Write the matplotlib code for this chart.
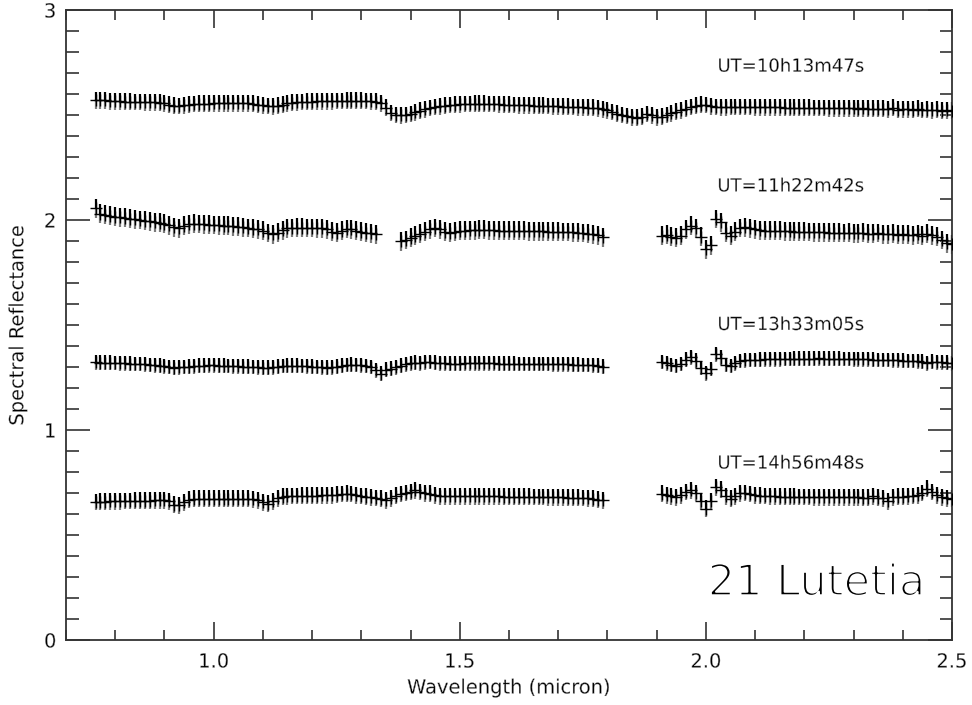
import numpy as np
import matplotlib
matplotlib.use('Agg')
import matplotlib.pyplot as plt
import matplotlib.patheffects as pe
from matplotlib.ticker import MultipleLocator, FormatStrFormatter

plt.rcParams['font.family'] = ['DejaVu Sans']

# wavelength segments (micron, 0.01 step)  [start, end]
seg_full = (0.76, 2.50)
seg_a2, seg_b2, seg_c2 = (0.76, 1.33), (1.38, 1.79), (1.91, 2.50)
seg_a, seg_b, seg_c = (0.76, 1.34), (1.35, 1.79), (1.91, 2.50)

# UT=10h13m47s (continuous)
refl_1 = [2.570, 2.570, 2.570, 2.566, 2.565, 2.565, 2.563, 2.563, 2.562, 2.562,
          2.561, 2.560, 2.560, 2.558, 2.556, 2.550, 2.545, 2.543, 2.547, 2.550,
          2.552, 2.553, 2.553, 2.554, 2.555, 2.555, 2.556, 2.556, 2.556, 2.556,
          2.555, 2.555, 2.553, 2.550, 2.546, 2.543, 2.542, 2.545, 2.550, 2.555,
          2.558, 2.560, 2.562, 2.563, 2.564, 2.565, 2.565, 2.566, 2.566, 2.567,
          2.567, 2.568, 2.568, 2.569, 2.568, 2.567, 2.566, 2.563, 2.555, 2.535,
          2.510, 2.500, 2.498, 2.500, 2.505, 2.512, 2.520, 2.527, 2.533, 2.538,
          2.542, 2.545, 2.548, 2.550, 2.551, 2.552, 2.552, 2.553, 2.553, 2.553,
          2.552, 2.552, 2.551, 2.550, 2.549, 2.548, 2.547, 2.546, 2.546, 2.545,
          2.545, 2.544, 2.543, 2.542, 2.541, 2.540, 2.539, 2.538, 2.537, 2.536,
          2.535, 2.534, 2.532, 2.528, 2.522, 2.514, 2.506, 2.500, 2.495, 2.490,
          2.488, 2.492, 2.505, 2.498, 2.490, 2.492, 2.500, 2.508, 2.515, 2.522,
          2.530, 2.538, 2.545, 2.550, 2.548, 2.542, 2.538, 2.537, 2.537, 2.538,
          2.538, 2.538, 2.538, 2.538, 2.537, 2.537, 2.537, 2.536, 2.536, 2.536,
          2.535, 2.535, 2.535, 2.534, 2.534, 2.534, 2.533, 2.533, 2.533, 2.532,
          2.532, 2.532, 2.531, 2.531, 2.531, 2.530, 2.531, 2.530, 2.530, 2.530,
          2.530, 2.528, 2.535, 2.525, 2.528, 2.527, 2.526, 2.530, 2.524, 2.526,
          2.522, 2.525, 2.520, 2.522, 2.520]

# UT=11h22m42s
refl_2a = [2.055, 2.030, 2.025, 2.020, 2.015, 2.012, 2.010, 2.006, 2.003, 2.000,
           1.997, 1.994, 1.990, 1.987, 1.982, 1.975, 1.966, 1.960, 1.972, 1.980,
           1.982, 1.981, 1.980, 1.978, 1.976, 1.975, 1.973, 1.972, 1.970, 1.968,
           1.965, 1.962, 1.958, 1.955, 1.948, 1.938, 1.932, 1.940, 1.952, 1.960,
           1.962, 1.963, 1.963, 1.962, 1.962, 1.961, 1.960, 1.955, 1.945, 1.940,
           1.948, 1.957, 1.955, 1.950, 1.945, 1.940, 1.937, 1.932]
refl_2b = [1.898, 1.905, 1.915, 1.925, 1.935, 1.945, 1.955, 1.962, 1.955, 1.945,
           1.940, 1.945, 1.948, 1.950, 1.952, 1.952, 1.953, 1.953, 1.952, 1.952,
           1.950, 1.950, 1.949, 1.948, 1.948, 1.948, 1.947, 1.947, 1.946, 1.946,
           1.945, 1.945, 1.944, 1.943, 1.943, 1.942, 1.940, 1.938, 1.935, 1.932,
           1.928, 1.918]
refl_2c = [1.925, 1.930, 1.920, 1.915, 1.925, 1.955, 1.973, 1.960, 1.920, 1.860,
           1.880, 2.005, 1.990, 1.940, 1.925, 1.945, 1.962, 1.965, 1.960, 1.955,
           1.952, 1.950, 1.949, 1.948, 1.948, 1.947, 1.946, 1.945, 1.945, 1.944,
           1.943, 1.942, 1.942, 1.941, 1.940, 1.940, 1.939, 1.938, 1.940, 1.937,
           1.936, 1.940, 1.935, 1.934, 1.938, 1.933, 1.932, 1.935, 1.930, 1.933,
           1.930, 1.928, 1.932, 1.926, 1.935, 1.928, 1.920, 1.905, 1.890, 1.885]

# UT=13h33m05s
refl_3a = [1.322, 1.321, 1.320, 1.320, 1.319, 1.318, 1.317, 1.316, 1.315, 1.314,
           1.312, 1.310, 1.308, 1.306, 1.303, 1.300, 1.297, 1.298, 1.300, 1.302,
           1.304, 1.306, 1.307, 1.308, 1.308, 1.307, 1.306, 1.305, 1.304, 1.303,
           1.302, 1.301, 1.300, 1.299, 1.297, 1.296, 1.298, 1.302, 1.305, 1.307,
           1.307, 1.306, 1.305, 1.304, 1.302, 1.300, 1.298, 1.297, 1.298, 1.302,
           1.306, 1.309, 1.311, 1.310, 1.308, 1.305, 1.300, 1.285, 1.268]
refl_3b = [1.287, 1.292, 1.298, 1.306, 1.312, 1.318, 1.320, 1.318, 1.322, 1.324,
           1.320, 1.318, 1.317, 1.316, 1.316, 1.316, 1.317, 1.317, 1.318, 1.318,
           1.318, 1.317, 1.317, 1.316, 1.316, 1.316, 1.316, 1.315, 1.315, 1.315,
           1.315, 1.314, 1.314, 1.314, 1.313, 1.313, 1.312, 1.312, 1.311, 1.311,
           1.310, 1.309, 1.308, 1.306, 1.302]
refl_3c = [1.324, 1.318, 1.310, 1.305, 1.315, 1.335, 1.346, 1.330, 1.295, 1.270,
           1.290, 1.360, 1.345, 1.310, 1.305, 1.318, 1.328, 1.332, 1.333, 1.334,
           1.335, 1.336, 1.336, 1.337, 1.337, 1.338, 1.338, 1.339, 1.339, 1.340,
           1.340, 1.340, 1.341, 1.340, 1.340, 1.339, 1.340, 1.338, 1.338, 1.337,
           1.337, 1.336, 1.336, 1.335, 1.334, 1.334, 1.333, 1.332, 1.331, 1.330,
           1.329, 1.328, 1.327, 1.326, 1.318, 1.325, 1.323, 1.322, 1.320, 1.318]

# UT=14h56m48s
refl_4a = [0.657, 0.658, 0.659, 0.660, 0.660, 0.661, 0.662, 0.662, 0.663, 0.663,
           0.664, 0.664, 0.665, 0.665, 0.665, 0.660, 0.645, 0.642, 0.655, 0.668,
           0.672, 0.673, 0.673, 0.673, 0.673, 0.673, 0.673, 0.673, 0.673, 0.673,
           0.673, 0.672, 0.670, 0.665, 0.655, 0.649, 0.660, 0.675, 0.683, 0.685,
           0.686, 0.686, 0.687, 0.687, 0.688, 0.688, 0.689, 0.689, 0.690, 0.692,
           0.695, 0.697, 0.695, 0.690, 0.686, 0.683, 0.680, 0.676, 0.673]
refl_4b = [0.665, 0.675, 0.688, 0.695, 0.700, 0.705, 0.712, 0.705, 0.698, 0.696,
           0.690, 0.685, 0.684, 0.684, 0.685, 0.685, 0.685, 0.684, 0.684, 0.684,
           0.684, 0.684, 0.684, 0.684, 0.683, 0.683, 0.683, 0.682, 0.682, 0.682,
           0.681, 0.681, 0.681, 0.680, 0.680, 0.679, 0.679, 0.678, 0.678, 0.677,
           0.676, 0.674, 0.672, 0.669, 0.665]
refl_4c = [0.697, 0.690, 0.685, 0.680, 0.690, 0.705, 0.713, 0.700, 0.660, 0.625,
           0.660, 0.728, 0.715, 0.685, 0.673, 0.685, 0.698, 0.700, 0.695, 0.690,
           0.688, 0.686, 0.685, 0.684, 0.683, 0.683, 0.682, 0.682, 0.681, 0.681,
           0.681, 0.680, 0.680, 0.680, 0.680, 0.680, 0.679, 0.679, 0.679, 0.679,
           0.679, 0.678, 0.678, 0.685, 0.678, 0.675, 0.660, 0.680, 0.682, 0.683,
           0.684, 0.686, 0.690, 0.700, 0.720, 0.705, 0.690, 0.680, 0.675, 0.672]

errors = [0.04, 0.045, 0.035, 0.04]
ut_labels = ['UT=10h13m47s', 'UT=11h22m42s', 'UT=13h33m05s', 'UT=14h56m48s']
label_y = [2.73, 2.16, 1.50, 0.84]

spectra = [
    [(seg_full, refl_1)],
    [(seg_a2, refl_2a), (seg_b2, refl_2b), (seg_c2, refl_2c)],
    [(seg_a, refl_3a), (seg_b, refl_3b), (seg_c, refl_3c)],
    [(seg_a, refl_4a), (seg_b, refl_4b), (seg_c, refl_4c)],
]


def wl(seg):
    return np.round(np.arange(seg[0], seg[1] + 0.005, 0.01), 2)


# thin the glyphs a bit (the original uses a thin vector font)
thin = [pe.Normal(), pe.Stroke(linewidth=0.3, foreground='white')]
thin_big = [pe.Normal(), pe.Stroke(linewidth=1.5, foreground='white')]

fig = plt.figure(figsize=(9.72, 7.05), dpi=100)
ax = fig.add_axes([66 / 972, 65 / 705, 886 / 972, 630 / 705])

for segs, err in zip(spectra, errors):
    for seg, r in segs:
        x = wl(seg)
        y = np.array(r)
        # lower half of the error bar grey, upper half black
        ax.vlines(x, y - err, y, color='#7a7a7a', lw=1.6, zorder=2)
        ax.vlines(x, y, y + err, color='black', lw=1.6, zorder=2)
        ax.plot(x, y, ls='none', marker='+', ms=9, mew=1.0, color='black', zorder=3)

for t, ly in zip(ut_labels, label_y):
    ax.text(2.172, ly, t, ha='center', va='center', fontsize=13, color='black',
            path_effects=thin)

ax.text(2.224, 0.27, '21 Lutetia', ha='center', va='center', fontsize=31,
        color='black', path_effects=thin_big)

ax.set_xlim(0.7, 2.5)
ax.set_ylim(0, 3)
ax.xaxis.set_major_locator(MultipleLocator(0.5))
ax.xaxis.set_minor_locator(MultipleLocator(0.1))
ax.yaxis.set_major_locator(MultipleLocator(1))
ax.yaxis.set_minor_locator(MultipleLocator(0.1))
ax.xaxis.set_major_formatter(FormatStrFormatter('%.1f'))
ax.tick_params(which='both', direction='in', top=True, right=True, width=1.2,
               color='#333333', labelsize=14, labelcolor='black')
ax.tick_params(axis='x', which='major', length=13, pad=9)
ax.tick_params(axis='x', which='minor', length=7)
ax.tick_params(axis='y', which='major', length=17, pad=7)
ax.tick_params(axis='y', which='minor', length=9)
for lab in ax.get_xticklabels() + ax.get_yticklabels():
    lab.set_path_effects(thin)
for s in ax.spines.values():
    s.set_linewidth(1.3)
    s.set_color('#333333')

xl = ax.set_xlabel('Wavelength (micron)', fontsize=14, labelpad=5, color='black')
yl = ax.set_ylabel('Spectral Reflectance', fontsize=14, labelpad=12, color='black')
xl.set_path_effects(thin)
yl.set_path_effects(thin)

fig.savefig('out.png', dpi=100)
